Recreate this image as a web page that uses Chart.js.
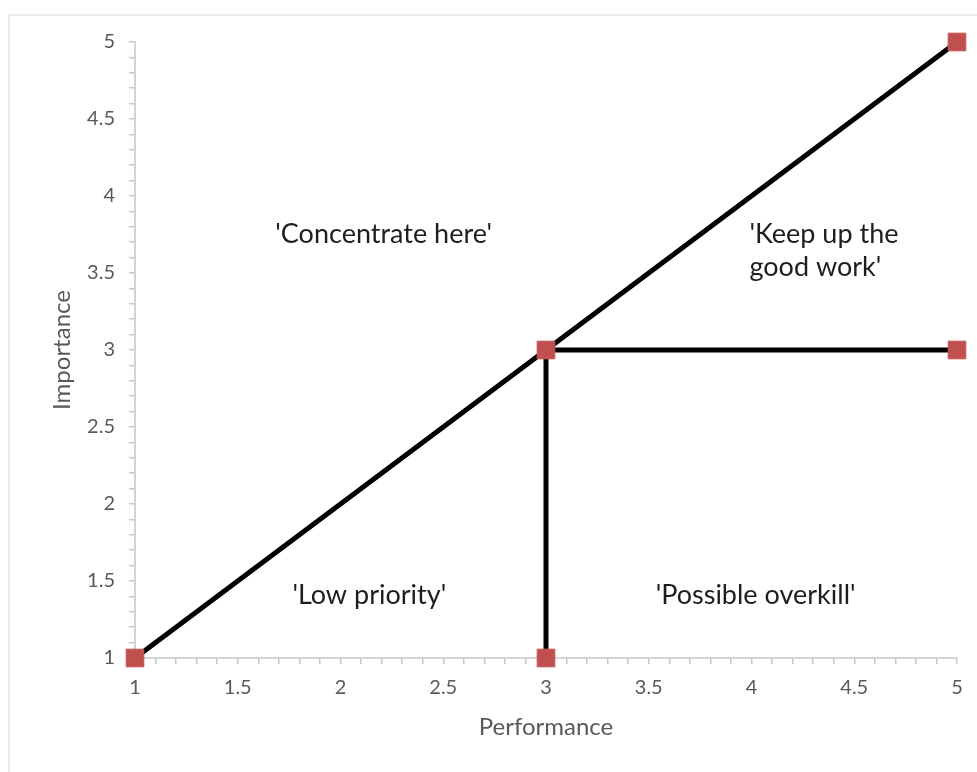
<!DOCTYPE html>
<html>
<head>
<meta charset="utf-8">
<script src="https://cdn.jsdelivr.net/npm/chart.js@4"></script>
<style>
  html, body { margin: 0; padding: 0; background: #fff; }
  #wrap { position: relative; width: 977px; height: 772px; overflow: hidden; }
  #frame { position: absolute; left: 8px; top: 14px; width: 1000px; height: 800px;
           border-left: 2px solid #ebebeb; border-top: 2px solid #ebebeb; }
  #chart { position: absolute; left: 0; top: 0; }
</style>
</head>
<body>
<div id="wrap">
  <div id="frame"></div>
  <canvas id="chart" width="977" height="772"></canvas>
</div>
<script>
// data
const diagPerf = [1, 3, 5];
const diagImp = [1, 3, 5];
const horizPerf = [3, 5];
const horizImp = [3, 3];
const vertPerf = [3, 3];
const vertImp = [3, 1];
const markerPerf = [1, 3, 5, 5, 3];
const markerImp = [1, 3, 5, 3, 1];

const quadText = [["'Concentrate here'"], ["'Keep up the", "good work'"], ["'Low priority'"], ["'Possible overkill'"]];
const quadPerf = [2.21, 3.99, 2.14, 4.02];
const quadImp = [3.75, 3.75, 1.41, 1.41];
const quadAlign = ["center", "left", "center", "center"];

const FONT = "Lato";
const toPts = (xs, ys) => xs.map((x, i) => ({ x: x, y: ys[i] }));

const lineStyle = {
    showLine: true,
    borderColor: "#000",
    borderWidth: 5,
    pointRadius: 0,
    fill: false,
    clip: false
};

// quadrant captions
const captions = {
    id: "captions",
    afterDatasetsDraw(chart) {
        const { ctx, scales } = chart;
        ctx.save();
        ctx.font = "27px " + FONT;
        ctx.fillStyle = "#1e1e1e";
        ctx.textBaseline = "middle";
        quadText.forEach((lines, i) => {
            ctx.textAlign = quadAlign[i];
            const x = scales.x.getPixelForValue(quadPerf[i]);
            const y = scales.y.getPixelForValue(quadImp[i]);
            lines.forEach((t, j) => ctx.fillText(t, x, y + j * 33));
        });
        ctx.restore();
    }
};

const tickLabel = v => {
    const r = Math.round(v * 2);
    return Math.abs(v * 2 - r) < 1e-6 ? String(r / 2) : "";
};

const axisCommon = {
    type: "linear",
    min: 1,
    max: 5,
    grid: { drawOnChartArea: false, color: "#c8c8c8", tickLength: 6, lineWidth: 1.5 },
    border: { color: "#d4d4d4", width: 2 },
    ticks: {
        stepSize: 0.1,
        autoSkip: false,
        maxRotation: 0,
        color: "#595959",
        font: { family: FONT, size: 20 },
        callback: tickLabel
    }
};

new Chart(document.getElementById("chart").getContext("2d"), {
    type: "scatter",
    data: {
        datasets: [
            {
                data: toPts(markerPerf, markerImp),
                pointStyle: "rect",
                pointRadius: 12.5,
                pointHoverRadius: 12.5,
                backgroundColor: "#c0504d",
                borderColor: "#c65a57",
                borderWidth: 1,
                clip: false
            },
            Object.assign({ data: toPts(diagPerf, diagImp) }, lineStyle),
            Object.assign({ data: toPts(horizPerf, horizImp) }, lineStyle),
            Object.assign({ data: toPts(vertPerf, vertImp) }, lineStyle)
        ]
    },
    options: {
        responsive: false,
        animation: false,
        layout: { padding: { left: 0, right: 20, top: 42, bottom: 0 } },
        plugins: { legend: { display: false }, tooltip: { enabled: false } },
        scales: {
            x: Object.assign({}, axisCommon, {
                ticks: Object.assign({}, axisCommon.ticks, { padding: 12 }),
                title: { display: true, text: "Performance", color: "#595959",
                         font: { family: FONT, size: 24 }, padding: { bottom: 30 } },
                afterFit: s => { s.height = 114; }
            }),
            y: Object.assign({}, axisCommon, {
                ticks: Object.assign({}, axisCommon.ticks, { padding: 14 }),
                title: { display: true, text: "Importance", color: "#595959",
                         font: { family: FONT, size: 24 }, padding: { top: 48 } },
                afterFit: s => { s.width = 135; }
            })
        }
    },
    plugins: [captions]
});
</script>
</body>
</html>
